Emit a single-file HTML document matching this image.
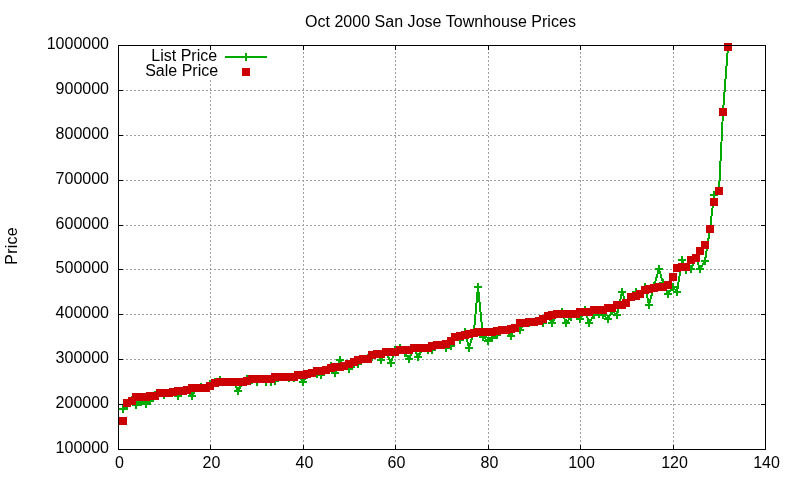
<!DOCTYPE html>
<html><head><meta charset="utf-8"><title>Oct 2000 San Jose Townhouse Prices</title>
<style>
html,body{margin:0;padding:0;background:#fff;}
body{width:800px;height:480px;overflow:hidden;}
svg{display:block;will-change:transform;}
text{font-family:"Liberation Sans",Arial,Helvetica,sans-serif;font-size:16px;fill:#000;}
</style></head><body>
<svg width="800" height="480" viewBox="0 0 800 480">
<g shape-rendering="crispEdges" stroke="#a0a0a0" stroke-width="1" stroke-dasharray="2 2" fill="none">
<line x1="210.5" y1="450" x2="210.5" y2="80"/>
<line x1="303.5" y1="450" x2="303.5" y2="45"/>
<line x1="395.5" y1="450" x2="395.5" y2="45"/>
<line x1="488.5" y1="450" x2="488.5" y2="45"/>
<line x1="580.5" y1="450" x2="580.5" y2="45"/>
<line x1="673.5" y1="450" x2="673.5" y2="45"/>
<line x1="118" y1="404.5" x2="766" y2="404.5"/>
<line x1="118" y1="359.5" x2="766" y2="359.5"/>
<line x1="118" y1="314.5" x2="766" y2="314.5"/>
<line x1="118" y1="269.5" x2="766" y2="269.5"/>
<line x1="118" y1="225.5" x2="766" y2="225.5"/>
<line x1="118" y1="180.5" x2="766" y2="180.5"/>
<line x1="118" y1="135.5" x2="766" y2="135.5"/>
<line x1="118" y1="90.5" x2="766" y2="90.5"/>
</g>
<g shape-rendering="crispEdges" stroke="#000" stroke-width="1" fill="none">
<line x1="118.5" y1="450" x2="118.5" y2="445"/><line x1="118.5" y1="45" x2="118.5" y2="50"/>
<line x1="210.5" y1="450" x2="210.5" y2="445"/><line x1="210.5" y1="45" x2="210.5" y2="50"/>
<line x1="303.5" y1="450" x2="303.5" y2="445"/><line x1="303.5" y1="45" x2="303.5" y2="50"/>
<line x1="395.5" y1="450" x2="395.5" y2="445"/><line x1="395.5" y1="45" x2="395.5" y2="50"/>
<line x1="488.5" y1="450" x2="488.5" y2="445"/><line x1="488.5" y1="45" x2="488.5" y2="50"/>
<line x1="580.5" y1="450" x2="580.5" y2="445"/><line x1="580.5" y1="45" x2="580.5" y2="50"/>
<line x1="673.5" y1="450" x2="673.5" y2="445"/><line x1="673.5" y1="45" x2="673.5" y2="50"/>
<line x1="765.5" y1="450" x2="765.5" y2="445"/><line x1="765.5" y1="45" x2="765.5" y2="50"/>
<line x1="118" y1="449.5" x2="123" y2="449.5"/><line x1="766" y1="449.5" x2="761" y2="449.5"/>
<line x1="118" y1="404.5" x2="123" y2="404.5"/><line x1="766" y1="404.5" x2="761" y2="404.5"/>
<line x1="118" y1="359.5" x2="123" y2="359.5"/><line x1="766" y1="359.5" x2="761" y2="359.5"/>
<line x1="118" y1="314.5" x2="123" y2="314.5"/><line x1="766" y1="314.5" x2="761" y2="314.5"/>
<line x1="118" y1="269.5" x2="123" y2="269.5"/><line x1="766" y1="269.5" x2="761" y2="269.5"/>
<line x1="118" y1="225.5" x2="123" y2="225.5"/><line x1="766" y1="225.5" x2="761" y2="225.5"/>
<line x1="118" y1="180.5" x2="123" y2="180.5"/><line x1="766" y1="180.5" x2="761" y2="180.5"/>
<line x1="118" y1="135.5" x2="123" y2="135.5"/><line x1="766" y1="135.5" x2="761" y2="135.5"/>
<line x1="118" y1="90.5" x2="123" y2="90.5"/><line x1="766" y1="90.5" x2="761" y2="90.5"/>
<line x1="118" y1="45.5" x2="123" y2="45.5"/><line x1="766" y1="45.5" x2="761" y2="45.5"/>
</g>
<g shape-rendering="crispEdges" stroke="#00aa00" stroke-width="2" fill="none" stroke-linejoin="miter">
<polyline points="123,409 127,403 132,400 136,405 141,402 146,404 150,401 155,395 160,393 164,395 169,393 173,392 178,396 183,391 187,390 192,396 197,388 201,387 206,388 210,384 215,382 220,380 224,382 229,382 234,382 238,391 243,382 247,379 252,380 257,382 261,379 266,382 271,382 275,381 280,377 284,377 289,378 294,378 298,375 303,382 307,375 312,373 317,374 321,375 326,370 331,366 335,373 340,360 344,366 349,369 354,364 358,364 363,359 368,358 372,357 377,354 381,360 386,352 391,363 395,350 400,348 405,353 409,359 414,348 418,357 423,348 428,350 432,350 437,345 441,345 446,348 451,346 455,337 460,340 465,332 469,348 474,331 478,287 483,337 488,341 492,338 497,335 502,330 506,330 511,336 515,328 520,330 525,323 529,323 534,322 539,321 543,323 548,316 552,323 557,314 562,312 566,323 571,317 576,314 580,319 585,310 589,323 594,315 599,314 603,315 608,319 612,311 617,315 622,292 626,303 631,297 636,292 640,294 645,287 649,305 654,286 659,269 663,283 668,294 673,287 677,292 682,260 686,270 691,269 696,258 700,269 705,261 710,229 714,195 719,191 723,112 728,47"/>
<path d="M119,409H127M123,405V413M123,403H131M127,399V407M128,400H136M132,396V404M132,405H140M136,401V409M137,402H145M141,398V406M142,404H150M146,400V408M146,401H154M150,397V405M151,395H159M155,391V399M156,393H164M160,389V397M160,395H168M164,391V399M165,393H173M169,389V397M169,392H177M173,388V396M174,396H182M178,392V400M179,391H187M183,387V395M183,390H191M187,386V394M188,396H196M192,392V400M193,388H201M197,384V392M197,387H205M201,383V391M202,388H210M206,384V392M206,384H214M210,380V388M211,382H219M215,378V386M216,380H224M220,376V384M220,382H228M224,378V386M225,382H233M229,378V386M230,382H238M234,378V386M234,391H242M238,387V395M239,382H247M243,378V386M243,379H251M247,375V383M248,380H256M252,376V384M253,382H261M257,378V386M257,379H265M261,375V383M262,382H270M266,378V386M267,382H275M271,378V386M271,381H279M275,377V385M276,377H284M280,373V381M280,377H288M284,373V381M285,378H293M289,374V382M290,378H298M294,374V382M294,375H302M298,371V379M299,382H307M303,378V386M303,375H311M307,371V379M308,373H316M312,369V377M313,374H321M317,370V378M317,375H325M321,371V379M322,370H330M326,366V374M327,366H335M331,362V370M331,373H339M335,369V377M336,360H344M340,356V364M340,366H348M344,362V370M345,369H353M349,365V373M350,364H358M354,360V368M354,364H362M358,360V368M359,359H367M363,355V363M364,358H372M368,354V362M368,357H376M372,353V361M373,354H381M377,350V358M377,360H385M381,356V364M382,352H390M386,348V356M387,363H395M391,359V367M391,350H399M395,346V354M396,348H404M400,344V352M401,353H409M405,349V357M405,359H413M409,355V363M410,348H418M414,344V352M414,357H422M418,353V361M419,348H427M423,344V352M424,350H432M428,346V354M428,350H436M432,346V354M433,345H441M437,341V349M437,345H445M441,341V349M442,348H450M446,344V352M447,346H455M451,342V350M451,337H459M455,333V341M456,340H464M460,336V344M461,332H469M465,328V336M465,348H473M469,344V352M470,331H478M474,327V335M474,287H482M478,283V291M479,337H487M483,333V341M484,341H492M488,337V345M488,338H496M492,334V342M493,335H501M497,331V339M498,330H506M502,326V334M502,330H510M506,326V334M507,336H515M511,332V340M511,328H519M515,324V332M516,330H524M520,326V334M521,323H529M525,319V327M525,323H533M529,319V327M530,322H538M534,318V326M535,321H543M539,317V325M539,323H547M543,319V327M544,316H552M548,312V320M548,323H556M552,319V327M553,314H561M557,310V318M558,312H566M562,308V316M562,323H570M566,319V327M567,317H575M571,313V321M572,314H580M576,310V318M576,319H584M580,315V323M581,310H589M585,306V314M585,323H593M589,319V327M590,315H598M594,311V319M595,314H603M599,310V318M599,315H607M603,311V319M604,319H612M608,315V323M608,311H616M612,307V315M613,315H621M617,311V319M618,292H626M622,288V296M622,303H630M626,299V307M627,297H635M631,293V301M632,292H640M636,288V296M636,294H644M640,290V298M641,287H649M645,283V291M645,305H653M649,301V309M650,286H658M654,282V290M655,269H663M659,265V273M659,283H667M663,279V287M664,294H672M668,290V298M669,287H677M673,283V291M673,292H681M677,288V296M678,260H686M682,256V264M682,270H690M686,266V274M687,269H695M691,265V273M692,258H700M696,254V262M696,269H704M700,265V273M701,261H709M705,257V265M706,229H714M710,225V233M710,195H718M714,191V199M715,191H723M719,187V195M719,112H727M723,108V116M724,47H732M728,43V51"/>
<path d="M225,57H267M246,53V61"/>
<path d="M124,408.5H128" stroke-width="3"/>
</g>
<g shape-rendering="crispEdges" fill="#cc0000">
<rect x="119" y="417" width="8" height="8"/><rect x="123" y="399" width="8" height="8"/><rect x="128" y="397" width="8" height="8"/><rect x="132" y="393" width="8" height="8"/><rect x="137" y="393" width="8" height="8"/><rect x="142" y="393" width="8" height="8"/><rect x="146" y="392" width="8" height="8"/><rect x="151" y="392" width="8" height="8"/><rect x="156" y="389" width="8" height="8"/><rect x="160" y="389" width="8" height="8"/><rect x="165" y="389" width="8" height="8"/><rect x="169" y="388" width="8" height="8"/><rect x="174" y="387" width="8" height="8"/><rect x="179" y="387" width="8" height="8"/><rect x="183" y="386" width="8" height="8"/><rect x="188" y="384" width="8" height="8"/><rect x="193" y="384" width="8" height="8"/><rect x="197" y="384" width="8" height="8"/><rect x="202" y="384" width="8" height="8"/><rect x="206" y="382" width="8" height="8"/><rect x="211" y="379" width="8" height="8"/><rect x="216" y="378" width="8" height="8"/><rect x="220" y="378" width="8" height="8"/><rect x="225" y="378" width="8" height="8"/><rect x="230" y="378" width="8" height="8"/><rect x="234" y="378" width="8" height="8"/><rect x="239" y="378" width="8" height="8"/><rect x="243" y="377" width="8" height="8"/><rect x="248" y="375" width="8" height="8"/><rect x="253" y="375" width="8" height="8"/><rect x="257" y="375" width="8" height="8"/><rect x="262" y="375" width="8" height="8"/><rect x="267" y="375" width="8" height="8"/><rect x="271" y="373" width="8" height="8"/><rect x="276" y="373" width="8" height="8"/><rect x="280" y="373" width="8" height="8"/><rect x="285" y="373" width="8" height="8"/><rect x="290" y="373" width="8" height="8"/><rect x="294" y="371" width="8" height="8"/><rect x="299" y="371" width="8" height="8"/><rect x="303" y="370" width="8" height="8"/><rect x="308" y="369" width="8" height="8"/><rect x="313" y="367" width="8" height="8"/><rect x="317" y="367" width="8" height="8"/><rect x="322" y="366" width="8" height="8"/><rect x="327" y="364" width="8" height="8"/><rect x="331" y="363" width="8" height="8"/><rect x="336" y="363" width="8" height="8"/><rect x="340" y="362" width="8" height="8"/><rect x="345" y="360" width="8" height="8"/><rect x="350" y="358" width="8" height="8"/><rect x="354" y="356" width="8" height="8"/><rect x="359" y="355" width="8" height="8"/><rect x="364" y="355" width="8" height="8"/><rect x="368" y="351" width="8" height="8"/><rect x="373" y="350" width="8" height="8"/><rect x="377" y="350" width="8" height="8"/><rect x="382" y="348" width="8" height="8"/><rect x="387" y="348" width="8" height="8"/><rect x="391" y="348" width="8" height="8"/><rect x="396" y="346" width="8" height="8"/><rect x="401" y="346" width="8" height="8"/><rect x="405" y="346" width="8" height="8"/><rect x="410" y="344" width="8" height="8"/><rect x="414" y="344" width="8" height="8"/><rect x="419" y="344" width="8" height="8"/><rect x="424" y="344" width="8" height="8"/><rect x="428" y="342" width="8" height="8"/><rect x="433" y="341" width="8" height="8"/><rect x="437" y="341" width="8" height="8"/><rect x="442" y="340" width="8" height="8"/><rect x="447" y="337" width="8" height="8"/><rect x="451" y="333" width="8" height="8"/><rect x="456" y="332" width="8" height="8"/><rect x="461" y="331" width="8" height="8"/><rect x="465" y="330" width="8" height="8"/><rect x="470" y="329" width="8" height="8"/><rect x="474" y="328" width="8" height="8"/><rect x="479" y="328" width="8" height="8"/><rect x="484" y="328" width="8" height="8"/><rect x="488" y="328" width="8" height="8"/><rect x="493" y="327" width="8" height="8"/><rect x="498" y="326" width="8" height="8"/><rect x="502" y="326" width="8" height="8"/><rect x="507" y="325" width="8" height="8"/><rect x="511" y="324" width="8" height="8"/><rect x="516" y="319" width="8" height="8"/><rect x="521" y="319" width="8" height="8"/><rect x="525" y="318" width="8" height="8"/><rect x="530" y="318" width="8" height="8"/><rect x="535" y="317" width="8" height="8"/><rect x="539" y="315" width="8" height="8"/><rect x="544" y="312" width="8" height="8"/><rect x="548" y="311" width="8" height="8"/><rect x="553" y="310" width="8" height="8"/><rect x="558" y="310" width="8" height="8"/><rect x="562" y="310" width="8" height="8"/><rect x="567" y="310" width="8" height="8"/><rect x="572" y="310" width="8" height="8"/><rect x="576" y="308" width="8" height="8"/><rect x="581" y="308" width="8" height="8"/><rect x="585" y="308" width="8" height="8"/><rect x="590" y="306" width="8" height="8"/><rect x="595" y="306" width="8" height="8"/><rect x="599" y="306" width="8" height="8"/><rect x="604" y="304" width="8" height="8"/><rect x="608" y="304" width="8" height="8"/><rect x="613" y="301" width="8" height="8"/><rect x="618" y="301" width="8" height="8"/><rect x="622" y="299" width="8" height="8"/><rect x="627" y="293" width="8" height="8"/><rect x="632" y="292" width="8" height="8"/><rect x="636" y="290" width="8" height="8"/><rect x="641" y="286" width="8" height="8"/><rect x="645" y="285" width="8" height="8"/><rect x="650" y="284" width="8" height="8"/><rect x="655" y="283" width="8" height="8"/><rect x="659" y="283" width="8" height="8"/><rect x="664" y="281" width="8" height="8"/><rect x="669" y="273" width="8" height="8"/><rect x="673" y="264" width="8" height="8"/><rect x="678" y="263" width="8" height="8"/><rect x="682" y="263" width="8" height="8"/><rect x="687" y="256" width="8" height="8"/><rect x="692" y="254" width="8" height="8"/><rect x="696" y="247" width="8" height="8"/><rect x="701" y="241" width="8" height="8"/><rect x="706" y="225" width="8" height="8"/><rect x="710" y="198" width="8" height="8"/><rect x="715" y="187" width="8" height="8"/><rect x="719" y="108" width="8" height="8"/><rect x="724" y="43" width="8" height="8"/>
<rect x="242" y="68" width="8" height="8"/>
</g>
<rect shape-rendering="crispEdges" x="118.5" y="45.5" width="647" height="404" fill="none" stroke="#000" stroke-width="1"/>
<text x="440.45" y="27" text-anchor="middle" textLength="270.9" lengthAdjust="spacing">Oct 2000 San Jose Townhouse Prices</text>
<text transform="translate(17,246) rotate(-90)" text-anchor="middle" textLength="37.4" lengthAdjust="spacing">Price</text>
<text x="217.1" y="60.75" text-anchor="end">List Price</text>
<text x="218.1" y="76" text-anchor="end">Sale Price</text>
<text x="109" y="453" text-anchor="end">100000</text>
<text x="109" y="408" text-anchor="end">200000</text>
<text x="109" y="363" text-anchor="end">300000</text>
<text x="109" y="318" text-anchor="end">400000</text>
<text x="109" y="273" text-anchor="end">500000</text>
<text x="109" y="229" text-anchor="end">600000</text>
<text x="109" y="184" text-anchor="end">700000</text>
<text x="109" y="139" text-anchor="end">800000</text>
<text x="109" y="94" text-anchor="end">900000</text>
<text x="109" y="49" text-anchor="end">1000000</text>
<text x="119.5" y="468" text-anchor="middle">0</text>
<text x="211.5" y="468" text-anchor="middle">20</text>
<text x="304.5" y="468" text-anchor="middle">40</text>
<text x="396.5" y="468" text-anchor="middle">60</text>
<text x="489.5" y="468" text-anchor="middle">80</text>
<text x="581.5" y="468" text-anchor="middle">100</text>
<text x="674.5" y="468" text-anchor="middle">120</text>
<text x="766.5" y="468" text-anchor="middle">140</text>
</svg>
</body></html>
